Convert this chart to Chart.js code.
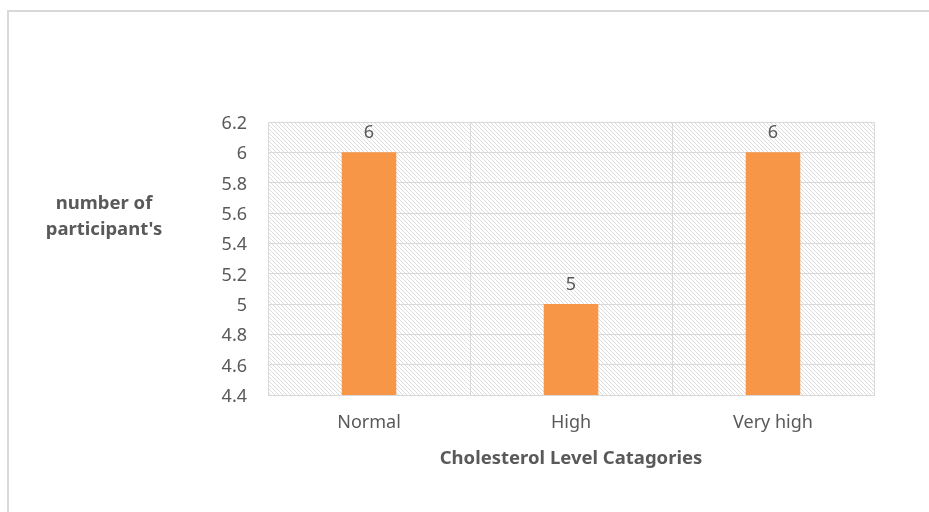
<!DOCTYPE html>
<html>
<head>
<meta charset="utf-8">
<script src="https://cdn.jsdelivr.net/npm/chart.js@4.4.0/dist/chart.umd.min.js"></script>
<style>
    html, body { margin: 0; padding: 0; overflow: hidden; background: #fff; }
    #wrap { position: relative; width: 929px; height: 512px; }
    #frame {
        position: absolute; left: 7px; top: 10px;
        width: 1000px; height: 1000px;
        border: 2px solid #d9d9d9; box-sizing: border-box;
    }
    canvas { position: absolute; left: 0; top: 0; }
</style>
</head>
<body>
<div id="wrap">
    <div id="frame"></div>
    <canvas id="cholChart" width="929" height="512"></canvas>
</div>
<script>

    const categories = ['Normal', 'High', 'Very high'];
    const participants = [6, 5, 6];
    const yTicks = [4.4, 4.6, 4.8, 5, 5.2, 5.4, 5.6, 5.8, 6, 6.2];

    const textGrey = '#595959';
    const lineGrey = '#d9d9d9';
    const fontFamily = '"Noto Sans", "Open Sans", sans-serif';

    // light downward diagonal hatch for the plot background
    function makeHatch() {
        const c = document.createElement('canvas');
        c.width = 8;
        c.height = 8;
        const g = c.getContext('2d');
        g.fillStyle = '#ffffff';
        g.fillRect(0, 0, 8, 8);
        g.fillStyle = '#dcdcdc';
        for (let y = 0; y < 8; y++) {
            for (let x = 0; x < 8; x++) {
                if (((x - y) % 4 + 4) % 4 === 0) g.fillRect(x, y, 1, 1);
            }
        }
        return c;
    }

    const hatchBackground = {
        id: 'hatchBackground',
        beforeDraw(chart) {
            const {ctx, chartArea} = chart;
            ctx.save();
            ctx.fillStyle = ctx.createPattern(makeHatch(), 'repeat');
            ctx.fillRect(chartArea.left, chartArea.top,
                chartArea.right - chartArea.left, chartArea.bottom - chartArea.top);
            ctx.restore();
        }
    };

    // value labels above bars + horizontal y axis title
    const extraText = {
        id: 'extraText',
        afterDatasetsDraw(chart) {
            const ctx = chart.ctx;
            ctx.save();
            ctx.fillStyle = textGrey;
            ctx.font = '18px ' + fontFamily;
            ctx.textAlign = 'center';
            ctx.textBaseline = 'bottom';
            chart.getDatasetMeta(0).data.forEach(function (bar, i) {
                ctx.fillText(String(participants[i]), bar.x, bar.y - 10);
            });

            ctx.font = 'bold 18.5px ' + fontFamily;
            ctx.textBaseline = 'middle';
            ctx.fillText('number of', 104, 204);
            ctx.fillText("participant's", 104, 230);
            ctx.restore();
        }
    };

    const ctx = document.getElementById('cholChart').getContext('2d');

    const cholChart = new Chart(ctx, {
        type: 'bar',
        data: {
            labels: categories,
            datasets: [{
                label: "number of participant's",
                data: participants,
                backgroundColor: '#f79646',
                borderWidth: 0,
                categoryPercentage: 1,
                barPercentage: 0.27
            }]
        },
        options: {
            responsive: false,
            animation: false,
            layout: {
                padding: {top: 122, right: 55, left: 0, bottom: 0}
            },
            plugins: {
                legend: {display: false},
                tooltip: {enabled: false}
            },
            scales: {
                x: {
                    grid: {color: lineGrey, drawTicks: false, offset: true},
                    border: {color: lineGrey},
                    ticks: {
                        color: textGrey,
                        padding: 17,
                        font: {family: fontFamily, size: 18}
                    },
                    title: {
                        display: true,
                        text: 'Cholesterol Level Catagories',
                        color: textGrey,
                        font: {family: fontFamily, size: 18.5, weight: 'bold'},
                        padding: {top: 0, bottom: 42}
                    },
                    afterFit: function (scale) {
                        scale.height = 117;
                    }
                },
                y: {
                    min: 4.4,
                    max: 6.2,
                    afterBuildTicks: function (scale) {
                        scale.ticks = yTicks.map(function (v) { return {value: v}; });
                    },
                    grid: {color: lineGrey, drawTicks: false},
                    border: {color: lineGrey},
                    ticks: {
                        color: textGrey,
                        padding: 21,
                        labelOffset: 2,
                        font: {family: fontFamily, size: 18},
                        callback: function (value) {
                            return String(Math.round(value * 10) / 10);
                        }
                    },
                    afterFit: function (scale) {
                        scale.width = 268;
                    }
                }
            }
        },
        plugins: [hatchBackground, extraText]
    });

</script>
</body>
</html>
